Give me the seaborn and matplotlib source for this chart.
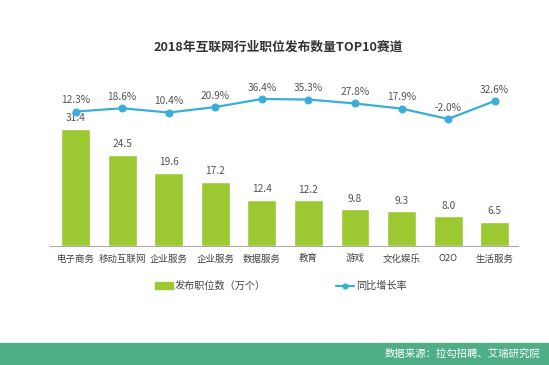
import matplotlib
matplotlib.use("Agg")
import matplotlib.pyplot as plt
import seaborn as sns
import pandas as pd
from matplotlib.patches import Rectangle
from matplotlib.lines import Line2D

categories = ["电子商务", "移动互联网", "企业服务", "企业服务", "数据服务", "教育", "游戏", "文化娱乐", "O2O", "生活服务"]
jobs = [31.4, 24.5, 19.6, 17.2, 12.4, 12.2, 9.8, 9.3, 8.0, 6.5]
growth = [12.3, 18.6, 10.4, 20.9, 36.4, 35.3, 27.8, 17.9, -2.0, 32.6]
title = "2018年互联网行业职位发布数量TOP10赛道"
bar_label = "发布职位数（万个）"
line_label = "同比增长率"
source = "数据来源：拉勾招聘、艾瑞研究院"

sns.set_theme(style="white")
plt.rcParams['font.family'] = ['Noto Sans CJK SC', 'DejaVu Sans']

BAR_C = "#9cc932"
LINE_C = "#3aaed8"
TXT_C = "#555555"

df = pd.DataFrame({"cat": range(len(categories)), "jobs": jobs, "growth": growth})

fig = plt.figure(figsize=(5.49, 3.65), dpi=100)
ax = fig.add_axes([50/549, 0.326, 468/549, 0.455])
sns.barplot(data=df, x="cat", y="jobs", color=BAR_C, width=0.62, ax=ax, saturation=1)
ax.set_xlim(-0.55, 9.5)
ax.set_ylim(0, 44.5)
for i, v in enumerate(jobs):
    ax.text(i, v + 1.5, f"{v:.1f}", ha="center", va="bottom", fontsize=7.3, color=TXT_C)
ax.set_xticks(range(len(categories)))
ax.set_xticklabels(categories, fontsize=6.8, color="#444444")
ax.tick_params(axis="x", length=0, pad=6)
ax.set_yticks([])
ax.set_xlabel("")
ax.set_ylabel("")
for s in ["top", "right", "left"]:
    ax.spines[s].set_visible(False)
ax.spines["bottom"].set_color("#aaaaaa")
ax.spines["bottom"].set_linewidth(0.8)

ax2 = ax.twinx()
sns.lineplot(data=df, x="cat", y="growth", color=LINE_C, marker="o", markersize=5,
             markeredgecolor=LINE_C, linewidth=1.6, ax=ax2)
ax2.set_ylim(-246, 73)
ax2.set_xlim(-0.55, 9.5)
for i, v in enumerate(growth):
    ax2.text(i, v + 12, f"{v:.1f}%", ha="center", va="bottom", fontsize=7.3, color=TXT_C)
ax2.set_yticks([])
ax2.set_ylabel("")
for s in ["top", "right", "left", "bottom"]:
    ax2.spines[s].set_visible(False)

handles = [Rectangle((0, 0), 1, 1, color=BAR_C),
           Line2D([0], [0], color=LINE_C, marker="o", markersize=3.5, linewidth=1.6)]
fig.legend(handles, [bar_label, line_label], loc="center", bbox_to_anchor=(281/549, 1 - 286/365),
           ncol=2, frameon=False, fontsize=7.3, columnspacing=6.9, handlelength=1.8,
           handletextpad=0.2, labelcolor="#444444")

fig.text(278/549, 1 - 47/365, title, ha="center", va="center", fontsize=9.2,
         fontweight="bold", color="#333333")

fig.patches.append(Rectangle((0, 0), 1, 22/365, transform=fig.transFigure,
                             color="#4fae86", zorder=0))
fig.text(540/549, 11/365, source, ha="right", va="center", fontsize=7.5, color="white")

fig.savefig("out.png", dpi=100)
